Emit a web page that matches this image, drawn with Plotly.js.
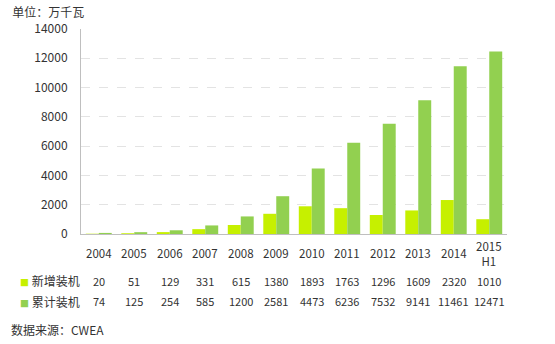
<!DOCTYPE html>
<html><head><meta charset="utf-8">
<script src="https://cdn.plot.ly/plotly-3.0.1.min.js"></script>
<style>html,body{margin:0;padding:0;background:#fff}#chart{width:555px;height:344px}</style>
</head><body><div id="chart"></div>
<script>
const categories = ['2004','2005','2006','2007','2008','2009','2010','2011','2012','2013','2014','2015<br>H1'];
const newInstalled = [20,51,129,331,615,1380,1893,1763,1296,1609,2320,1010];
const cumulative = [74,125,254,585,1200,2581,4473,6236,7532,9141,11461,12471];
const seriesNames = ['新增装机','累计装机'];
const colors = ['#C6F000','#92D050'];
const font = '"Noto Sans CJK SC", "Open Sans", sans-serif';

const traces = [
  {type:'bar', x:categories, y:newInstalled, name:seriesNames[0], marker:{color:colors[0]}},
  {type:'bar', x:categories, y:cumulative, name:seriesNames[1], marker:{color:colors[1]}}
];

const annotations = [];
// category labels, vertically centred like the reference
categories.forEach((c, i) => {
  annotations.push({xref:'x', yref:'paper', x:i, y:-0.095, xanchor:'center', yanchor:'middle',
    text:c, showarrow:false, font:{family:font, size:11.5, color:'#333'}});
});
const rowY = [-0.229, -0.327];
[newInstalled, cumulative].forEach((arr, r) => {
  annotations.push({xref:'paper', yref:'paper', x:-0.148, y:rowY[r], xanchor:'left', yanchor:'middle',
    text:'<span style="color:'+colors[r]+';font-size:9px">■</span> '+seriesNames[r], showarrow:false,
    font:{family:font, size:12, color:'#333'}});
  arr.forEach((v, i) => {
    annotations.push({xref:'x', yref:'paper', x:i, y:rowY[r], xanchor:'center', yanchor:'middle',
      text:String(v), showarrow:false, font:{family:font, size:11, color:'#333'}});
  });
});
annotations.push({xref:'paper', yref:'paper', x:-0.169, y:-0.468, xanchor:'left', yanchor:'middle',
  text:'数据来源：CWEA', showarrow:false, font:{family:font, size:12, color:'#333'}});

const layout = {
  width:555, height:344,
  margin:{l:81, r:48, t:29, b:110},
  paper_bgcolor:'#fff', plot_bgcolor:'#fff',
  showlegend:false,
  barmode:'group', bargap:0.27, bargroupgap:0,
  title:{text:'单位：万千瓦', x:0.022, xanchor:'left', y:0.962, yanchor:'middle', font:{family:font, size:12, color:'#333'}},
  xaxis:{type:'category', range:[-0.5, categories.length-0.5], autorange:false, showline:true, linecolor:'#BFBFBF', linewidth:1, ticks:'', showgrid:false,
    showticklabels:false},
  yaxis:{range:[0,14000], autorange:false, dtick:2000, tickformat:'d', showline:true, linecolor:'#BFBFBF', linewidth:1,
    gridcolor:'#E3E3E3', griddash:'dash', zeroline:false, ticks:'',
    tickfont:{family:font, size:12, color:'#333'}, ticklabelstandoff:10},
  annotations:annotations
};
Plotly.newPlot('chart', traces, layout, {displayModeBar:false, staticPlot:true});
</script></body></html>
